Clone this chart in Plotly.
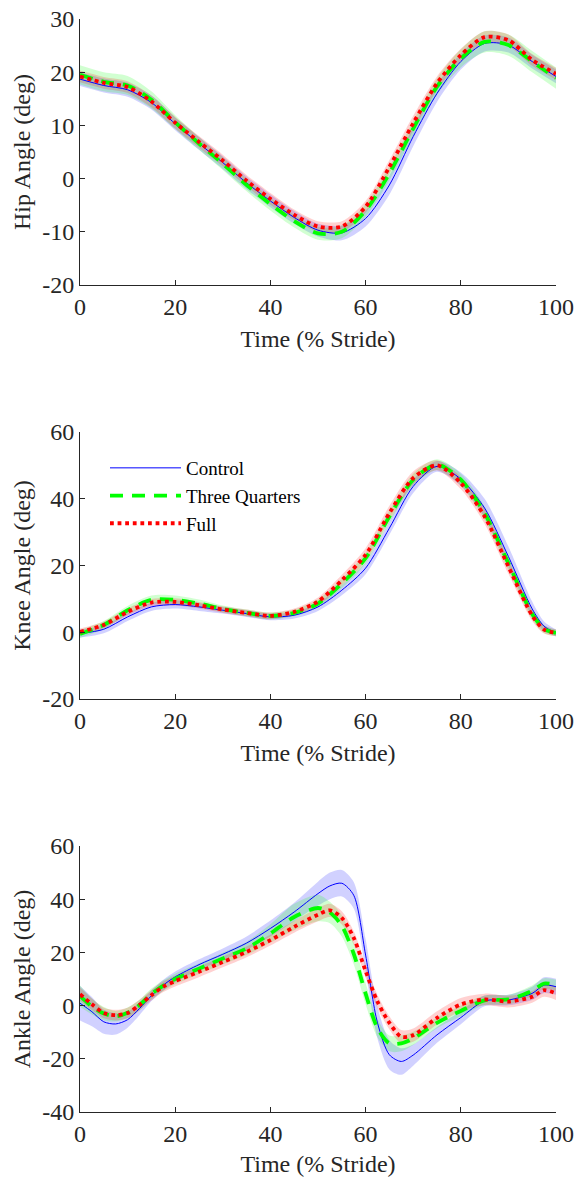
import plotly.graph_objects as go

# ---------------- data ----------------
x5 = [0, 5, 10, 15, 20, 25, 30, 35, 40, 45, 50, 55, 60, 65, 70, 75, 80, 85, 90, 95, 100]
x_knee = [0, 5, 10, 15, 20, 25, 30, 35, 40, 45, 50, 55, 60, 65, 70, 75, 80, 85, 90, 95, 97.5, 100]

hip_control = [18.7, 17.5, 16.7, 14.3, 10.3, 6.6, 3.0, -0.8, -4.2, -7.3, -9.7, -10.2, -7.5, -1.2, 7.9, 16.0, 22.0, 25.4, 25.1, 22.0, 19.2]
hip_three   = [19.5, 18.2, 17.5, 14.8, 10.6, 6.6, 2.8, -1.2, -4.8, -8.0, -10.3, -10.0, -6.0, 1.0, 9.4, 17.3, 22.6, 25.7, 25.1, 22.0, 18.9]
hip_full    = [19.2, 18.0, 17.2, 14.5, 10.5, 6.9, 3.4, -0.4, -3.8, -6.8, -9.0, -9.0, -5.3, 2.2, 10.4, 17.9, 23.2, 26.6, 26.0, 22.3, 19.7]
hip_control_sd = [1.3, 1.3, 1.3, 1.3, 1.2, 1.2, 1.2, 1.2, 1.2, 1.2, 1.2, 1.4, 1.5, 1.8, 1.8, 1.6, 1.5, 1.5, 1.4, 1.3, 1.3]
hip_three_sd   = [1.8, 1.8, 1.8, 1.6, 1.3, 1.2, 1.2, 1.2, 1.2, 1.2, 1.2, 1.2, 1.2, 1.3, 1.4, 1.5, 1.7, 2.0, 2.0, 2.0, 2.0]
hip_full_sd    = [1.1, 1.1, 1.1, 1.1, 1.1, 1.1, 1.1, 1.1, 1.1, 1.0, 1.0, 1.0, 1.1, 1.3, 1.4, 1.3, 1.2, 1.1, 1.1, 1.1, 1.1]

knee_control = [-0.4, 0.9, 4.6, 7.6, 8.3, 7.6, 6.6, 5.6, 4.6, 5.1, 7.6, 12.6, 19.2, 31.2, 43.7, 49.7, 45.9, 37.2, 22.7, 7.0, 1.8, -0.2]
knee_three   = [-0.5, 2.2, 6.6, 9.7, 9.7, 8.6, 7.0, 5.8, 4.9, 5.8, 8.6, 14.6, 22.2, 34.7, 45.7, 50.2, 45.7, 35.7, 20.7, 5.5, 1.0, -0.2]
knee_full    = [0.1, 2.2, 6.1, 8.9, 9.1, 8.1, 6.8, 5.8, 4.9, 6.1, 9.2, 15.6, 23.2, 35.7, 46.2, 50.0, 44.7, 34.7, 19.7, 5.0, 0.8, -0.2]
knee_control_sd = [1.2, 1.2, 1.2, 1.2, 1.2, 1.2, 1.0, 1.0, 1.0, 1.0, 1.2, 1.5, 1.8, 2.0, 2.0, 1.6, 2.0, 2.8, 3.0, 2.2, 1.4, 1.0]
knee_three_sd   = [1.2, 1.2, 1.3, 1.3, 1.3, 1.2, 1.0, 1.0, 1.0, 1.0, 1.2, 1.4, 1.6, 1.8, 1.8, 1.6, 1.8, 2.0, 2.0, 1.6, 1.2, 1.0]
knee_full_sd    = [1.0, 1.0, 1.1, 1.1, 1.1, 1.0, 1.0, 1.0, 1.0, 1.0, 1.2, 1.6, 2.0, 2.2, 2.0, 1.5, 1.8, 2.2, 2.2, 1.6, 1.2, 1.0]

x_ankle = [0, 2.5, 5, 7.5, 10, 12.5, 15, 17.5, 20, 25, 30, 35, 40, 45, 50, 52.5, 55, 57.5, 60, 62.5, 65, 67.5, 70, 75, 80, 85, 90, 95, 97.5, 100]
ankle_control = [0.9, -2.3, -6.1, -6.9, -5.3, -1.1, 3.7, 7.7, 10.8, 15.4, 19.3, 23.5, 29.0, 35.2, 42.1, 45.0, 46.0, 41.5, 19.0, -6.5, -18.5, -21.0, -18.6, -11.0, -4.5, 1.8, 2.1, 4.6, 7.7, 7.1]
ankle_three   = [3.6, -0.3, -3.0, -4.0, -2.7, 0.2, 4.4, 7.5, 10.0, 13.9, 17.7, 21.5, 27.1, 33.3, 36.7, 35.0, 30.0, 19.5, 4.5, -8.5, -14.2, -14.2, -12.3, -6.5, -2.0, 2.0, 2.3, 5.6, 8.3, 7.7]
ankle_full    = [4.3, 0.5, -2.8, -3.6, -2.8, 0.2, 3.9, 7.1, 9.2, 12.7, 16.4, 20.2, 24.6, 29.6, 34.2, 35.8, 33.0, 25.5, 13.0, 1.5, -6.5, -11.7, -11.1, -4.6, 0.4, 2.3, 1.5, 3.3, 5.8, 4.6]
ankle_control_sd = [6.5, 5.5, 4.5, 4.0, 3.0, 2.5, 2.0, 2.0, 2.0, 2.0, 2.2, 2.5, 3.0, 3.5, 4.5, 5.0, 5.0, 5.0, 6.0, 6.0, 5.5, 5.0, 4.0, 3.0, 2.5, 2.0, 2.0, 2.5, 3.0, 3.0]
ankle_three_sd   = [4.0, 3.0, 2.5, 2.0, 2.0, 2.0, 2.0, 2.0, 2.0, 2.0, 2.2, 2.5, 3.5, 5.0, 5.0, 4.0, 4.0, 4.0, 4.0, 3.5, 3.0, 3.0, 2.5, 2.0, 2.0, 1.8, 1.8, 2.0, 2.0, 2.0]
ankle_full_sd    = [2.5, 2.2, 2.0, 2.0, 2.0, 2.0, 2.0, 2.0, 2.0, 2.0, 2.0, 2.0, 2.0, 2.2, 2.5, 2.5, 2.5, 2.5, 2.5, 2.5, 2.5, 2.5, 2.5, 2.5, 2.5, 2.2, 2.2, 2.2, 2.5, 2.5]

series_names = ["Control", "Three Quarters", "Full"]
x_ticks = [0, 20, 40, 60, 80, 100]
x_ticktext = ["0", "20", "40", "60", "80", "100"]
hip_ticks = [-20, -10, 0, 10, 20, 30]
hip_ticktext = ["-20", "-10", "0", "10", "20", "30"]
knee_ticks = [-20, 0, 20, 40, 60]
knee_ticktext = ["-20", "0", "20", "40", "60"]
ankle_ticks = [-40, -20, 0, 20, 40, 60]
ankle_ticktext = ["-40", "-20", "0", "20", "40", "60"]
y_titles = ["Hip Angle (deg)", "Knee Angle (deg)", "Ankle Angle (deg)"]
x_title = "Time (% Stride)"

# ---------------- styling ----------------
FONT = "Liberation Serif"
AX = "#262626"
line_colors = ["#0000ff", "#00ff00", "#ff0000"]
band_colors = ["rgba(0,0,255,0.18)", "rgba(0,255,0,0.18)", "rgba(255,0,0,0.18)"]
line_widths = [1.0, 3.8, 3.8]
line_dashes = ["solid", "13px,9px", "dot"]

fig = go.Figure()

panels = [
    (x5, [hip_control, hip_three, hip_full], [hip_control_sd, hip_three_sd, hip_full_sd]),
    (x_knee, [knee_control, knee_three, knee_full], [knee_control_sd, knee_three_sd, knee_full_sd]),
    (x_ankle, [ankle_control, ankle_three, ankle_full], [ankle_control_sd, ankle_three_sd, ankle_full_sd]),
]

for p, (xs, means, sds) in enumerate(panels):
    xa = "x" if p == 0 else f"x{p+1}"
    ya = "y" if p == 0 else f"y{p+1}"
    for i in range(3):
        lo = [m - s for m, s in zip(means[i], sds[i])]
        hi = [m + s for m, s in zip(means[i], sds[i])]
        fig.add_trace(go.Scatter(x=xs, y=lo, mode="lines", line=dict(width=0, shape="spline", smoothing=0.8),
                                 showlegend=False, hoverinfo="skip", xaxis=xa, yaxis=ya))
        fig.add_trace(go.Scatter(x=xs, y=hi, mode="lines", line=dict(width=0, shape="spline", smoothing=0.8),
                                 fill="tonexty", fillcolor=band_colors[i],
                                 showlegend=False, hoverinfo="skip", xaxis=xa, yaxis=ya))
    for i in range(3):
        fig.add_trace(go.Scatter(x=xs, y=means[i], mode="lines", name=series_names[i],
                                 line=dict(color=line_colors[i], width=line_widths[i], dash=line_dashes[i],
                                           shape="spline", smoothing=0.8),
                                 showlegend=(p == 1), xaxis=xa, yaxis=ya))

W, H = 575, 1177
ML, MR, MT, MB = 80, 19, 19, 65
PW = W - ML - MR
PH = H - MT - MB
y_px = [(19, 285), (432, 699), (846, 1112)]
y_ranges = [[-20, 30], [-20, 60], [-40, 60]]
y_tick_sets = [(hip_ticks, hip_ticktext), (knee_ticks, knee_ticktext), (ankle_ticks, ankle_ticktext)]

layout = dict(
    width=W, height=H,
    margin=dict(l=ML, r=MR, t=MT, b=MB, autoexpand=False),
    paper_bgcolor="white", plot_bgcolor="white",
    font=dict(family=FONT, size=24, color=AX),
    showlegend=True,
    legend=dict(x=(120 - 15 - ML) / PW, y=(H - MB - 449) / PH, xanchor="left", yanchor="top",
                bgcolor="rgba(0,0,0,0)", font=dict(family=FONT, size=19, color="black"),
                itemwidth=71, tracegroupgap=0, traceorder="normal"),
)

for p in range(3):
    xk = "xaxis" if p == 0 else f"xaxis{p+1}"
    yk = "yaxis" if p == 0 else f"yaxis{p+1}"
    top, bot = y_px[p]
    layout[xk] = dict(
        domain=[0, 1], anchor="y" if p == 0 else f"y{p+1}", range=[0, 100], automargin=False,
        tickvals=x_ticks, ticktext=x_ticktext, ticks="inside", ticklen=5, tickwidth=1, tickcolor=AX,
        showline=True, linecolor=AX, linewidth=1, showgrid=False, zeroline=False,
        title=dict(text=x_title, standoff=11, font=dict(family=FONT, size=24, color=AX)),
        tickfont=dict(family=FONT, size=24, color=AX),
    )
    layout[yk] = dict(
        domain=[(H - MB - bot) / PH, (H - MB - top) / PH], anchor="x" if p == 0 else f"x{p+1}",
        range=y_ranges[p], automargin=False,
        tickvals=y_tick_sets[p][0], ticktext=y_tick_sets[p][1], ticks="inside", ticklen=5, tickwidth=1,
        tickcolor=AX, showline=True, linecolor=AX, linewidth=1, showgrid=False, zeroline=False,
        title=dict(text=y_titles[p], standoff=4, font=dict(family=FONT, size=24, color=AX)),
        tickfont=dict(family=FONT, size=24, color=AX),
    )

fig.update_layout(**layout)
fig.write_html("out.html", config={"displayModeBar": False},
               post_script="document.body.style.margin='0';document.body.style.overflow='hidden';")
